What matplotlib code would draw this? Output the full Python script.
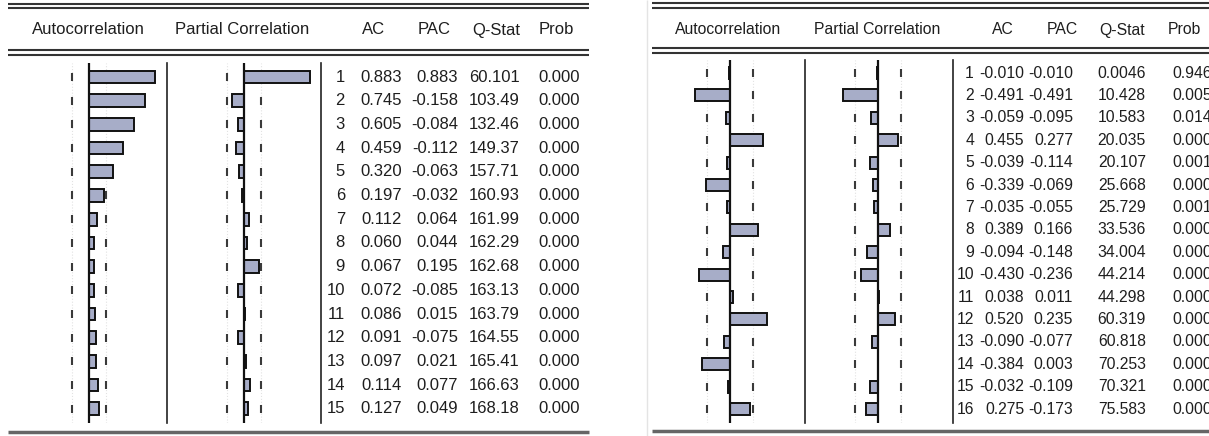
import matplotlib.pyplot as plt
import numpy as np

# left correlogram: 15 lags
lags_a = list(range(1, 16))
ac_a = [0.883, 0.745, 0.605, 0.459, 0.320, 0.197, 0.112, 0.060, 0.067, 0.072,
        0.086, 0.091, 0.097, 0.114, 0.127]
pac_a = [0.883, -0.158, -0.084, -0.112, -0.063, -0.032, 0.064, 0.044, 0.195, -0.085,
         0.015, -0.075, 0.021, 0.077, 0.049]
q_a = [60.101, 103.49, 132.46, 149.37, 157.71, 160.93, 161.99, 162.29, 162.68, 163.13,
       163.79, 164.55, 165.41, 166.63, 168.18]
prob_a = [0.000] * 15
nobs_a = 75

# right correlogram: 16 lags
lags_b = list(range(1, 17))
ac_b = [-0.010, -0.491, -0.059, 0.455, -0.039, -0.339, -0.035, 0.389, -0.094, -0.430,
        0.038, 0.520, -0.090, -0.384, -0.032, 0.275]
pac_b = [-0.010, -0.491, -0.095, 0.277, -0.114, -0.069, -0.055, 0.166, -0.148, -0.236,
         0.011, 0.235, -0.077, 0.003, -0.109, -0.173]
q_b = [0.0046, 10.428, 10.583, 20.035, 20.107, 25.668, 25.729, 33.536, 34.004, 44.214,
       44.298, 60.319, 60.818, 70.253, 70.321, 75.583]
prob_b = [0.946, 0.005, 0.014, 0.000, 0.001, 0.000, 0.001, 0.000, 0.000, 0.000,
          0.000, 0.000, 0.000, 0.000, 0.000, 0.000]
nobs_b = 39

headers = ["Autocorrelation", "Partial Correlation", "AC", "PAC", "Q-Stat", "Prob"]

W, H = 1209, 436
plt.rcParams['font.family'] = ['Liberation Sans', 'DejaVu Sans']
fig = plt.figure(figsize=(W / 100, H / 100), dpi=100)

BAR = '#a7adc8'
INK = '#1e1e1e'


def box(x0, y0, x1, y1):
    return [x0 / W, 1 - y1 / H, (x1 - x0) / W, (y1 - y0) / H]


# overlay in pixel units for the rules and headers
over = fig.add_axes([0, 0, 1, 1])
over.set_xlim(0, W)
over.set_ylim(H, 0)
over.axis('off')
over.vlines(647, 0, H, color='#e4e4e4', lw=1)

left = dict(x0=8, x1=589, zac=89, sep1=167, zpac=244, sep2=321, scale=75,
            row0=77, step=23.7, top=63, bot=423, rules=(4, 8, 50, 55), base=432,
            fs=12, cols=[345, 402, 458, 520, 580],
            head_x=[88, 242, 374, 434, 496, 556])
# the right window is cut off by the screenshot edge, Prob column included
right = dict(x0=652, x1=W, zac=730, sep1=805, zpac=878, sep2=953, scale=72,
             row0=73, step=22.4, top=60, bot=423, rules=(3.5, 8, 48.5, 53), base=431,
             fs=11.3, cols=[974, 1024, 1073, 1146, 1212],
             head_x=[728, 877, 1003, 1062, 1122, 1184])


def qfmt(v):
    return f"{v:.5g}"


def draw_panel(L, lags, ac, pac, q, prob, nobs):
    for y in L['rules']:
        over.hlines(y, L['x0'], L['x1'], color='#333333', lw=1.5)
    over.hlines(L['base'], L['x0'], L['x1'], color='#666666', lw=2.5)
    for hx, label in zip(L['head_x'], headers):
        over.text(hx, 30, label, ha='center', va='center', fontsize=L['fs'], color=INK)

    ylim = (1 + (L['bot'] - L['row0']) / L['step'], 1 + (L['top'] - L['row0']) / L['step'])
    band = 2 / np.sqrt(nobs)
    n = len(lags)

    for xa, xb, zero, vals in [(L['x0'], L['sep1'], L['zac'], ac),
                               (L['sep1'], L['sep2'], L['zpac'], pac)]:
        ax = fig.add_axes(box(xa, L['top'], xb, L['bot']))
        ax.set_xlim((xa - zero) / L['scale'], (xb - zero) / L['scale'])
        ax.set_ylim(*ylim)
        ax.axis('off')
        ax.vlines([-band, band], ylim[0], ylim[1], colors='#e2e2e2', linestyles=':', lw=0.8)
        for b in (-band, band):
            ax.plot([b] * n, lags, ls='none', marker='|', ms=6, mew=1.5, color='#3a3a3a')
        ax.barh(lags, vals, height=0.54, color=BAR, edgecolor='#111111', lw=1.4, zorder=3)
        ax.axvline(0, color='#111111', lw=1.6, zorder=4)
        ax.axvline(ax.get_xlim()[1], color='#222222', lw=1.2, clip_on=False)

    tab = fig.add_axes(box(L['sep2'], L['top'], L['x1'], L['bot']))
    tab.set_xlim(L['sep2'], L['x1'])
    tab.set_ylim(*ylim)
    tab.axis('off')
    for i, lag in enumerate(lags):
        cells = [str(lag), f"{ac[i]:.3f}", f"{pac[i]:.3f}", qfmt(q[i]), f"{prob[i]:.3f}"]
        for cx, s in zip(L['cols'], cells):
            tab.text(cx, lag, s, ha='right', va='center', fontsize=L['fs'],
                     color=INK, clip_on=False)


draw_panel(left, lags_a, ac_a, pac_a, q_a, prob_a, nobs_a)
draw_panel(right, lags_b, ac_b, pac_b, q_b, prob_b, nobs_b)

fig.savefig('out.png', dpi=100, facecolor='white')
